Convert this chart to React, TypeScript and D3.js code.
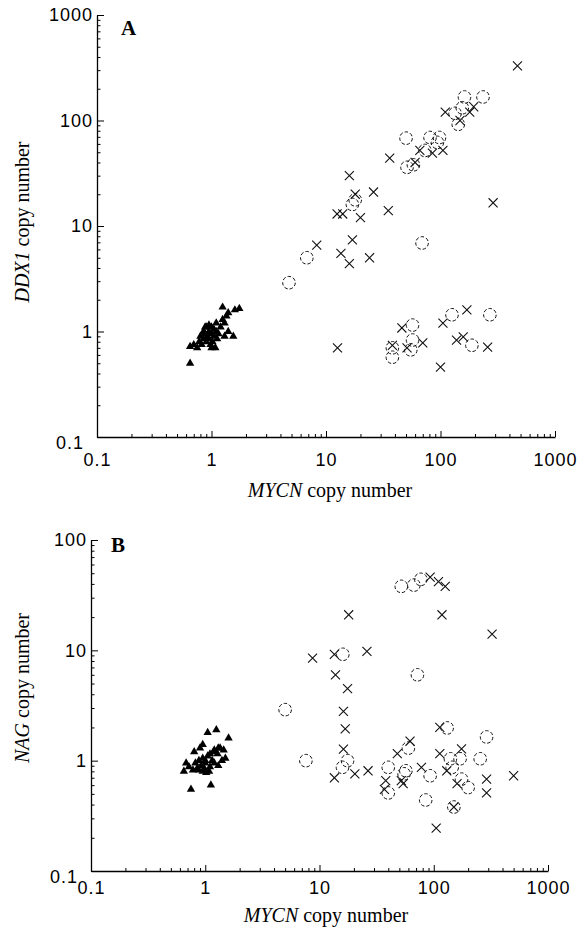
import React, { useEffect, useRef } from 'react'
import * as d3 from 'd3'

type Pt = [number, number]

// ---- panel A : DDX1 vs MYCN ----
const aTriangles: Pt[] = [
  [0.65, 0.5], [0.65, 0.72], [0.7, 0.75], [0.75, 0.7], [0.78, 0.8], [0.8, 0.9], [0.82, 0.75],
  [0.85, 0.85], [0.85, 1.0], [0.88, 0.95], [0.9, 0.8], [0.9, 1.1], [0.92, 0.9], [0.95, 1.0],
  [0.95, 0.85], [0.98, 0.75], [1.0, 0.95], [1.0, 1.1], [1.02, 0.8], [1.05, 0.9], [1.05, 1.05],
  [1.08, 0.7], [1.1, 1.0], [1.1, 1.2], [1.12, 0.85], [1.15, 0.95], [1.2, 1.1], [1.25, 1.7],
  [1.25, 1.3], [1.3, 0.9], [1.3, 1.2], [1.35, 1.4], [1.4, 1.0], [1.4, 1.5], [1.55, 0.9],
  [1.6, 1.6], [1.75, 1.65], [0.95, 1.15], [0.88, 1.1], [1.0, 0.7]
]
const aCrosses: Pt[] = [
  [470, 330], [110, 120], [148, 100], [180, 120], [195, 135],
  [85, 49], [66, 52], [105, 52], [60, 40],
  [36, 44], [16, 30], [26, 21], [35, 14], [18, 20], [14, 13], [20, 12], [12.5, 13],
  [8.3, 6.6], [17, 7.4], [13.5, 5.5], [16, 4.4], [24, 5.0], [288, 16.6],
  [12.6, 0.7], [46, 1.08], [38, 0.74], [51, 0.7], [70, 0.78], [105, 1.2], [170, 1.6],
  [138, 0.83], [158, 0.89], [258, 0.71], [100, 0.46]
]
const aCircles: Pt[] = [
  [162, 167], [235, 167],
  [134, 117], [155, 132], [143, 92],
  [50, 68], [81, 69], [51, 36], [94, 62], [58, 38], [73, 52], [98, 69],
  [17, 16], [18, 17.7],
  [6.8, 5.0], [69, 6.9], [4.75, 2.9],
  [57, 1.15], [38, 0.7], [38, 0.57], [57, 0.83], [55, 0.67], [126, 1.44], [270, 1.44], [188, 0.74]
]

// ---- panel B : NAG vs MYCN ----
const bTriangles: Pt[] = [
  [0.75, 0.55], [0.65, 0.8], [0.68, 0.95], [0.72, 0.88], [0.78, 0.82], [0.8, 1.2], [0.82, 0.95],
  [0.85, 0.85], [0.88, 1.0], [0.9, 1.3], [0.92, 0.9], [0.95, 1.4], [0.95, 1.05], [0.98, 0.85],
  [1.0, 1.0], [1.0, 0.95], [1.02, 0.78], [1.05, 1.8], [1.05, 1.1], [1.08, 0.8], [1.1, 0.88],
  [1.12, 0.6], [1.15, 1.0], [1.18, 1.2], [1.2, 0.95], [1.25, 1.9], [1.28, 1.15], [1.3, 0.9],
  [1.35, 1.3], [1.4, 1.0], [1.45, 1.25], [1.5, 1.05], [1.6, 1.6], [1.3, 1.3], [0.88, 0.82],
  [1.1, 1.15], [1.2, 1.25], [0.95, 0.8]
]
const bCrosses: Pt[] = [
  [93, 46], [110, 42], [126, 38], [118, 21], [18, 21], [324, 14], [8.7, 8.5], [13.5, 9.2], [26, 9.8],
  [13.8, 6.0], [17.6, 4.5], [16.2, 2.8], [16.8, 1.94], [16.2, 1.27], [13.5, 0.7], [20.4, 0.76],
  [26.6, 0.81], [38, 0.66], [37, 0.55], [48, 1.16], [62, 1.5], [52, 0.66], [54, 0.62], [78, 0.87],
  [105, 0.245], [113, 2.0], [113, 1.16], [175, 1.28], [130, 0.81], [160, 0.62], [150, 0.38],
  [290, 0.68], [290, 0.51], [500, 0.73]
]
const bCircles: Pt[] = [
  [52, 38], [67, 39], [77, 44], [16, 9.2], [72, 6.0], [5.0, 2.9], [7.6, 1.0], [17.6, 1.0],
  [15.9, 0.87], [40, 0.87], [40, 0.51], [60, 1.3], [57, 0.81], [55, 0.76], [93, 0.73], [85, 0.44],
  [131, 1.98], [290, 1.64], [140, 1.04], [170, 1.04], [145, 0.87], [175, 0.68], [200, 0.57],
  [150, 0.38], [255, 1.04]
]

const xTicks = [0.1, 1, 10, 100, 1000]
const yTicksA = [0.1, 1, 10, 100, 1000]
const yTicksB = [0.1, 1, 10, 100]

const panels = [
  {
    letter: 'A', gene: 'DDX1', yDomain: [0.1, 1000], yTicks: yTicksA,
    tri: aTriangles, crosses: aCrosses, circles: aCircles,
    left: 97, right: 555, top: 15, bottom: 437, xPad: 16,
    letterPos: [121, 35], xTitle: [330, 497], yTitle: [29, 222]
  },
  {
    letter: 'B', gene: 'NAG', yDomain: [0.1, 100], yTicks: yTicksB,
    tri: bTriangles, crosses: bCrosses, circles: bCircles,
    left: 91, right: 548, top: 540, bottom: 871, xPad: 10,
    letterPos: [111, 552], xTitle: [326, 922], yTitle: [29, 688]
  }
]

const W = 582
const H = 931
const tickFont = 'Liberation Sans, Arial, Helvetica, sans-serif'
const titleFont = 'Liberation Serif, Times New Roman, serif'

export default function App() {
  const node = useRef<SVGSVGElement>(null)

  useEffect(() => {
    const svg = d3.select(node.current)
    svg.selectAll('*').remove()

    panels.forEach(p => {
      const x = d3.scaleLog().domain([0.1, 1000]).range([p.left, p.right])
      const y = d3.scaleLog().domain(p.yDomain).range([p.bottom, p.top])
      const g = svg.append('g')

      const minorX = x.ticks().filter(t => !xTicks.includes(t))
      const minorY = y.ticks().filter(t => !p.yTicks.includes(t))

      // minor ticks
      g.append('g')
        .attr('transform', `translate(0,${p.bottom})`)
        .call(d3.axisBottom(x).tickValues(minorX).tickSizeInner(-3).tickSizeOuter(0).tickFormat(() => ''))
        .call(a => a.select('.domain').remove())
      g.append('g')
        .attr('transform', `translate(${p.left},0)`)
        .call(d3.axisLeft(y).tickValues(minorY).tickSizeInner(-3.5).tickSizeOuter(0).tickFormat(() => ''))
        .call(a => a.select('.domain').remove())

      // major ticks + labels
      const xAxis = g.append('g')
        .attr('transform', `translate(0,${p.bottom})`)
        .call(d3.axisBottom(x).tickValues(xTicks).tickSizeInner(-6).tickSizeOuter(0)
          .tickPadding(p.xPad).tickFormat(d => String(d)))
      const yAxis = g.append('g')
        .attr('transform', `translate(${p.left},0)`)
        .call(d3.axisLeft(y).tickValues(p.yTicks).tickSizeInner(-7).tickSizeOuter(0)
          .tickPadding(4).tickFormat(d => String(d)))

      ;[xAxis, yAxis].forEach(a => {
        a.attr('font-family', tickFont).attr('font-size', 18)
        a.selectAll('text').attr('letter-spacing', 1).attr('fill', '#000')
        a.select('.domain').attr('stroke-width', 1.3)
      })
      // the lowest y label sits below-left so it clears the x label
      yAxis.selectAll<SVGTextElement, number>('text')
        .filter(d => d === 0.1)
        .attr('x', -13)
        .attr('dy', '0.62em')

      g.selectAll('.tick line').attr('stroke', '#000').attr('stroke-width', 1)

      // marks
      g.append('g')
        .selectAll('circle')
        .data(p.circles)
        .join('circle')
        .attr('cx', d => x(d[0]))
        .attr('cy', d => y(d[1]))
        .attr('r', 6.3)
        .attr('fill', 'none')
        .attr('stroke', '#111')
        .attr('stroke-width', 1)
        .attr('stroke-dasharray', '3.5 2')

      const times = (d3 as any).symbolTimes
      g.append('g')
        .selectAll('path')
        .data(p.crosses)
        .join('path')
        .attr('transform', d => `translate(${x(d[0])},${y(d[1])})`)
        .attr('d', times ? d3.symbol(times, 55)() : 'M-4.5,-4.5L4.5,4.5M-4.5,4.5L4.5,-4.5')
        .attr('fill', 'none')
        .attr('stroke', '#111')
        .attr('stroke-width', 1.1)

      g.append('g')
        .selectAll('path')
        .data(p.tri)
        .join('path')
        .attr('transform', d => `translate(${x(d[0])},${y(d[1])})`)
        .attr('d', d3.symbol(d3.symbolTriangle, 30)())
        .attr('fill', '#000')

      // panel letter
      g.append('text')
        .attr('x', p.letterPos[0])
        .attr('y', p.letterPos[1])
        .attr('font-family', titleFont)
        .attr('font-weight', 'bold')
        .attr('font-size', 21)
        .text(p.letter)

      // x title
      const xt = g.append('text')
        .attr('x', p.xTitle[0])
        .attr('y', p.xTitle[1])
        .attr('text-anchor', 'middle')
        .attr('font-family', titleFont)
        .attr('font-size', 20)
      xt.append('tspan').attr('font-style', 'italic').text('MYCN')
      xt.append('tspan').text(' copy number')

      // y title
      const yt = g.append('text')
        .attr('transform', `translate(${p.yTitle[0]},${p.yTitle[1]}) rotate(-90)`)
        .attr('text-anchor', 'middle')
        .attr('font-family', titleFont)
        .attr('font-size', 20)
      yt.append('tspan').attr('font-style', 'italic').text(p.gene)
      yt.append('tspan').text(' copy number')
    })
  }, [])

  return (
    <svg
      ref={node}
      width={W}
      height={H}
      viewBox={`0 0 ${W} ${H}`}
      style={{ position: 'absolute', left: 0, top: 0, background: '#fff' }}
    />
  )
}
